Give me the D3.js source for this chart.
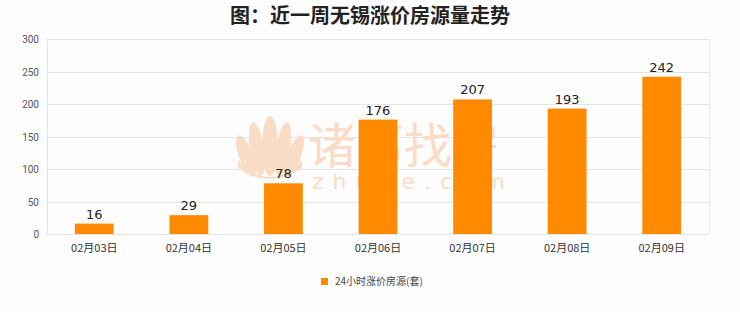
<!DOCTYPE html>
<html><head><meta charset="utf-8">
<script src="https://cdn.jsdelivr.net/npm/d3@7/dist/d3.min.js"></script>
<style>body{margin:0;background:#fdfdfd;}svg{display:block;}</style>
</head><body>
<svg id="c" width="740" height="312"></svg>
<script>
const categories = ["02月03日","02月04日","02月05日","02月06日","02月07日","02月08日","02月09日"];
const values = [16, 29, 78, 176, 207, 193, 242];
const yTicks = [0, 50, 100, 150, 200, 250, 300];
const seriesName = "24小时涨价房源(套)";
const title = "图：近一周无锡涨价房源量走势";

const svg = d3.select("#c");
const m = {l: 47, r: 709, t: 39, b: 234};
const x = d3.scaleBand().domain(categories).range([m.l, m.r]).paddingInner(0.59).paddingOuter(0.295);
const y = d3.scaleLinear().domain([0, 300]).range([m.b, m.t]);

svg.append("rect").attr("width", 740).attr("height", 312).attr("fill", "#fdfdfd");

svg.append("text").attr("x", 370).attr("y", 23).attr("text-anchor", "middle")
  .attr("font-family", "Noto Sans CJK SC").attr("font-weight", "bold").attr("font-size", 20)
  .attr("fill", "#222").text(title);

// grid
svg.append("g").selectAll("line").data(yTicks).join("line")
  .attr("x1", m.l).attr("x2", m.r).attr("y1", d => Math.round(y(d)) + 0.5).attr("y2", d => Math.round(y(d)) + 0.5)
  .attr("stroke", "#e4e4e4");
svg.append("line").attr("x1", m.l + 0.5).attr("x2", m.l + 0.5).attr("y1", m.t).attr("y2", m.b).attr("stroke", "#e4e4e4");
svg.append("line").attr("x1", m.r + 0.5).attr("x2", m.r + 0.5).attr("y1", m.t).attr("y2", m.b).attr("stroke", "#e4e4e4");

// watermark
const wm = svg.append("g").attr("fill", "#f8dcc6");
const petals = [[-24, 10, 7, 22, -20], [-13, 3, 7, 27, -9], [0, 0, 8, 30, 0], [13, 3, 7, 27, 9], [24, 10, 7, 22, 20]];
petals.forEach(p => wm.append("ellipse").attr("cx", 270 + p[0]).attr("cy", 146 + p[1]).attr("rx", p[2]).attr("ry", p[3])
  .attr("transform", `rotate(${p[4]},${270 + p[0]},${146 + p[1]})`));
wm.append("path").attr("d", "M238,160 Q270,194 302,160 L302,168 Q270,190 238,168 Z");
wm.append("text").attr("x", 308).attr("y", 163).attr("font-family", "Noto Sans CJK SC").attr("font-size", 48).text("诸葛找房");
wm.append("text").attr("x", 312).attr("y", 189).attr("font-family", "DejaVu Sans").attr("font-size", 22)
  .attr("letter-spacing", 9).text("zhuge.com");

// bars
svg.append("g").selectAll("rect").data(values).join("rect")
  .attr("x", (d, i) => x(categories[i])).attr("width", x.bandwidth())
  .attr("y", d => y(d)).attr("height", d => y(0) - y(d)).attr("fill", "#ff8a00");

svg.append("g").selectAll("text").data(values).join("text")
  .attr("x", (d, i) => x(categories[i]) + x.bandwidth() / 2).attr("y", d => y(d) - 5)
  .attr("text-anchor", "middle").attr("font-family", "DejaVu Sans").attr("font-size", 13).attr("fill", "#222")
  .text(d => d);

// y axis labels
svg.append("g").selectAll("text").data(yTicks).join("text")
  .attr("x", 39).attr("y", d => y(d) + 4).attr("text-anchor", "end")
  .attr("font-family", "Roboto").attr("font-size", 10).attr("fill", "#555").text(d => d);

// x labels
svg.append("g").selectAll("text").data(categories).join("text")
  .attr("x", d => x(d) + x.bandwidth() / 2).attr("y", 252).attr("text-anchor", "middle")
  .attr("font-family", "Noto Sans CJK SC").attr("font-size", 11).attr("fill", "#333").text(d => d);

// legend
svg.append("rect").attr("x", 321).attr("y", 278).attr("width", 7).attr("height", 7).attr("fill", "#ff8a00");
svg.append("text").attr("x", 335).attr("y", 285).attr("font-family", "Noto Sans CJK SC").attr("font-size", 10)
  .attr("fill", "#444").text(seriesName);
</script>
</body></html>
